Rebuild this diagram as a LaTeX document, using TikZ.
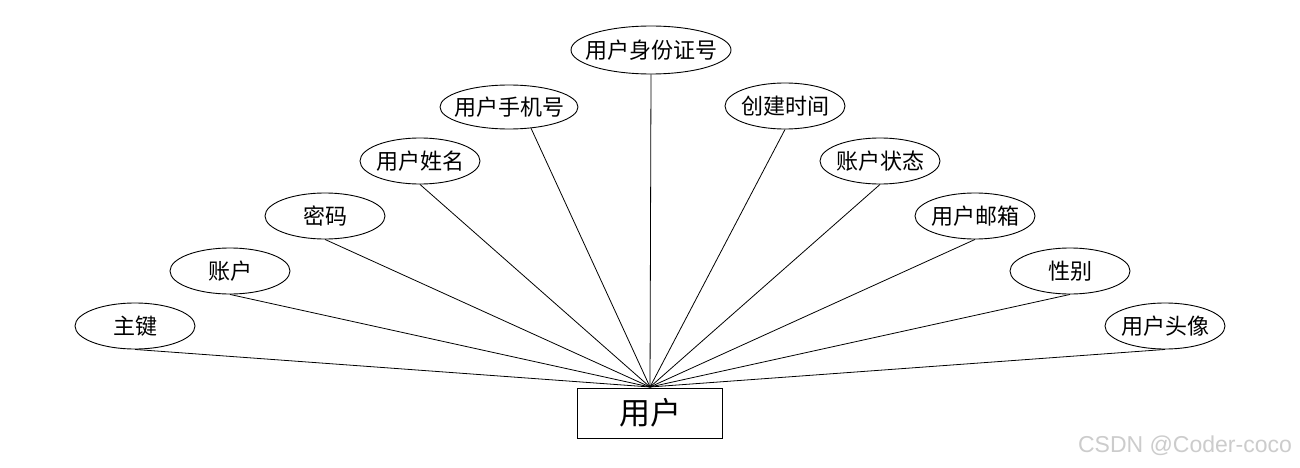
\documentclass[tikz,border=0pt]{standalone}
\usepackage{fontspec}
\setmainfont{Liberation Sans}
\newfontfamily\cjk{Noto Sans CJK SC}
\usetikzlibrary{shapes.geometric}
\begin{document}
\begin{tikzpicture}[x=1pt,y=-1pt,
  attr/.style={ellipse,draw,line width=0.9pt,minimum width=120pt,minimum height=46pt,inner ysep=0pt,inner xsep=-10pt,font=\cjk\fontsize{22}{22}\selectfont},
  ent/.style={rectangle,draw,line width=0.9pt,minimum width=145pt,minimum height=50pt,inner sep=0pt,font=\cjk\fontsize{31}{31}\selectfont},
  link/.style={line width=0.8pt}]
\useasboundingbox[fill=white] (0,0) rectangle (1300,468);
\node[ent] (user) at (650,413) {用户};
\coordinate (hub) at (650,387);
\node[attr] (a1) at (135,326) {主键};
\node[attr] (a2) at (230,271) {账户};
\node[attr] (a3) at (325,216) {密码};
\node[attr] (a4) at (420,161) {用户姓名};
\node[attr,minimum width=138pt,minimum height=44pt] (a5) at (509,107) {用户手机号};
\node[attr,minimum width=160pt,minimum height=48pt] (a6) at (651,50) {用户身份证号};
\node[attr] (a7) at (785,106) {创建时间};
\node[attr] (a8) at (880,161) {账户状态};
\node[attr] (a9) at (975,216) {用户邮箱};
\node[attr] (a10) at (1070,271) {性别};
\node[attr] (a11) at (1165,326) {用户头像};
\foreach \n in {a1,a2,a3,a4,a6,a7,a8,a9,a10,a11}
  \draw[link] (\n.south) -- (hub);
\draw[link] (a5.316) -- (hub);
\node[font=\fontsize{23}{23}\selectfont,text=black!20,inner sep=0pt] (wm) at (1185,446) {CSDN @Coder-coco};
\end{tikzpicture}
\end{document}
